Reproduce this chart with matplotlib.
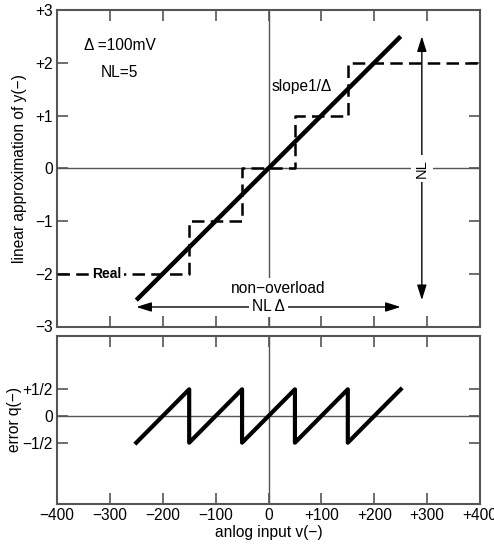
import matplotlib
matplotlib.use("Agg")
import matplotlib.pyplot as plt

plt.rcParams['font.family'] = ['Liberation Sans', 'DejaVu Sans']
plt.rcParams['axes.unicode_minus'] = True

# Data
stair_x = [-400, -150, -150, -50, -50, 50, 50, 150, 150, 400]
stair_y = [-2, -2, -1, -1, 0, 0, 1, 1, 2, 2]
lin_x = [-250, 250]
lin_y = [-2.5, 2.5]
err_x = [-250, -150, -150, -50, -50, 50, 50, 150, 150, 250]
err_y = [-0.5, 0.5, -0.5, 0.5, -0.5, 0.5, -0.5, 0.5, -0.5, 0.5]
xticks = [-400, -300, -200, -100, 0, 100, 200, 300, 400]
xtick_labels = ['\u2212400', '\u2212300', '\u2212200', '\u2212100', '0', '+100', '+200', '+300', '+400']
yticks_top = [-3, -2, -1, 0, 1, 2, 3]
ytick_labels_top = ['\u22123', '\u22122', '\u22121', '0', '+1', '+2', '+3']
yticks_bot = [-0.5, 0, 0.5]
ytick_labels_bot = ['\u22121/2', '0', '+1/2']

W, H = 494, 545
fig = plt.figure(figsize=(W / 100, H / 100), dpi=100)

def px_axes(l, t, r, b):
    return fig.add_axes([l / W, 1 - b / H, (r - l) / W, (b - t) / H])

ax1 = px_axes(57, 10, 480, 326.5)
ax2 = px_axes(57, 336, 480, 504)

FS = 11.2
spine_col = '#555555'
for ax in (ax1, ax2):
    for s in ax.spines.values():
        s.set_color(spine_col)
        s.set_linewidth(1.5)
    ax.tick_params(direction='in', length=8, width=1.2, color=spine_col,
                   top=True, right=True, labelsize=FS, pad=3)
    ax.set_xlim(-400, 400)
    ax.set_xticks(xticks)

# Top axes
ax1.set_ylim(-3, 3)
ax1.set_yticks(yticks_top)
ax1.set_yticklabels(ytick_labels_top)
ax1.tick_params(labelbottom=False)
ax1.axhline(0, color='#555555', lw=1.0, zorder=1)
ax1.axvline(0, color='#555555', lw=1.0, zorder=1)
ax1.plot(stair_x, stair_y, color='black', lw=1.8, dashes=(5, 2.5), zorder=3)
ax1.plot(lin_x, lin_y, color='black', lw=3.2, solid_capstyle='butt', zorder=4)
ax1.set_ylabel('linear approximation of y(\u2212)', fontsize=FS, labelpad=6)

ax1.text(-348, 2.33, '\u0394 =100mV', fontsize=FS, va='center', ha='left')
ax1.text(-318, 1.82, 'NL=5', fontsize=FS, va='center', ha='left')
ax1.text(5, 1.55, 'slope1/\u0394', fontsize=FS, va='center', ha='left')
ax1.text(-305, -2, 'Real', fontsize=10, fontweight='bold', va='center', ha='center',
         bbox=dict(facecolor='white', edgecolor='none', pad=1.5), zorder=5)

arrow_kw = dict(arrowstyle='<|-|>,head_length=0.7,head_width=0.22', color='black', lw=1.0,
                mutation_scale=13, shrinkA=0, shrinkB=0)

# NL vertical arrow
ax1.annotate('', xy=(290, 2.5), xytext=(290, -2.5), arrowprops=arrow_kw, zorder=5)
ax1.text(290, 0, 'NL', rotation=90, fontsize=10.5, va='center', ha='center',
         bbox=dict(facecolor='white', edgecolor='none', pad=3), zorder=6)

# NL delta horizontal arrow
ax1.annotate('', xy=(-250, -2.63), xytext=(250, -2.63), arrowprops=arrow_kw, zorder=5)
ax1.text(0, -2.63, 'NL \u0394', fontsize=FS, va='center', ha='center',
         bbox=dict(facecolor='white', edgecolor='none', pad=2), zorder=6)
ax1.text(18, -2.28, 'non\u2212overload', fontsize=FS, va='center', ha='center',
         bbox=dict(facecolor='white', edgecolor='none', pad=2), zorder=6)

# Bottom axes
ax2.set_ylim(-1.65, 1.5)
ax2.set_yticks(yticks_bot)
ax2.set_yticklabels(ytick_labels_bot)
ax2.set_xticklabels(xtick_labels)
ax2.axhline(0, color='#555555', lw=1.0, zorder=1)
ax2.axvline(0, color='#555555', lw=1.0, zorder=1)
ax2.plot(err_x, err_y, color='black', lw=3.0, zorder=4)
ax2.set_ylabel('error q(\u2212)', fontsize=FS, labelpad=0)
ax2.set_xlabel('anlog input v(\u2212)', fontsize=FS, labelpad=1)

fig.savefig('out.png', dpi=100)
